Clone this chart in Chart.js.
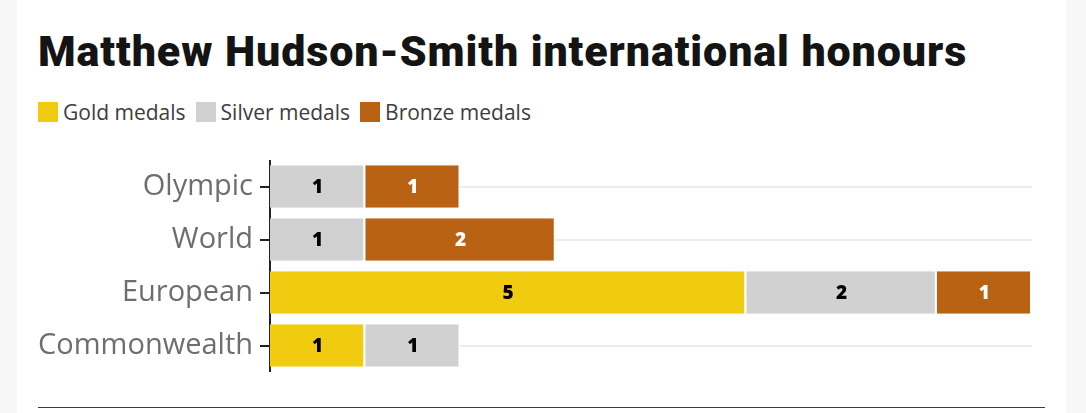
<!DOCTYPE html>
<html>
<head>
<meta charset="utf-8">
<script src="https://cdn.jsdelivr.net/npm/chart.js@4.4.1/dist/chart.umd.min.js"></script>
<style>
  html, body { margin: 0; padding: 0; }
  body { width: 1086px; height: 413px; background: #f7f7f7; position: relative; overflow: hidden; }
  .panel { position: absolute; left: 17px; top: 0; width: 1049px; height: 413px; background: #fff; }
  .title { position: absolute; left: 38px; top: 30px; font: 900 43px/1 Roboto, sans-serif; letter-spacing: 0.9px; color: #141414; white-space: nowrap; }
  .legend { position: absolute; left: 38px; top: 102px; display: flex; align-items: center; font: 400 21px/20px "Open Sans", sans-serif; color: #3d3d3d; }
  .legend .item { display: flex; align-items: center; margin-right: 10px; }
  .legend .swatch { width: 20px; height: 20px; margin-right: 5px; }
  #chart { position: absolute; left: 16px; top: 160px; }
  .rule { position: absolute; left: 38px; top: 407px; width: 1007px; height: 1px; background: #3a3a3a; }
</style>
</head>
<body>
<div class="panel"></div>
<div class="title">Matthew Hudson-Smith international honours</div>
<div class="legend" id="legend"></div>
<canvas id="chart" width="1016" height="212"></canvas>
<div class="rule"></div>

<script>
// data
const categories = ['Olympic', 'World', 'European', 'Commonwealth']
const seriesNames = ['Gold medals', 'Silver medals', 'Bronze medals']
const gold = [0, 0, 5, 1]
const silver = [1, 1, 2, 1]
const bronze = [1, 2, 1, 0]

const colors = ['#f1cb10', '#d1d1d1', '#b96213']
const labelColors = ['#000000', '#000000', '#ffffff']

// empty segments are left out so no border is drawn for them
const clean = arr => arr.map(v => v === 0 ? null : v)

// legend in html
const legend = document.getElementById('legend')
seriesNames.forEach((name, i) => {
	const item = document.createElement('div')
	item.className = 'item'
	const swatch = document.createElement('span')
	swatch.className = 'swatch'
	swatch.style.backgroundColor = colors[i]
	const text = document.createElement('span')
	text.innerText = name
	item.appendChild(swatch)
	item.appendChild(text)
	legend.appendChild(item)
})

// numbers inside the bars
const barLabels = {
	id: 'barLabels',
	afterDatasetsDraw(chart) {
		const ctx = chart.ctx
		ctx.save()
		ctx.font = '800 19px "Open Sans", sans-serif'
		ctx.textAlign = 'center'
		ctx.textBaseline = 'middle'
		chart.data.datasets.forEach((ds, i) => {
			const meta = chart.getDatasetMeta(i)
			meta.data.forEach((bar, j) => {
				const v = ds.data[j]
				if (!v) return
				ctx.fillStyle = labelColors[i]
				ctx.fillText(String(v), (bar.x + bar.base) / 2, bar.y + 1)
			})
		})
		ctx.restore()
	}
}

new Chart(document.getElementById('chart'), {
	type: 'bar',
	data: {
		labels: categories,
		datasets: [
			{ label: seriesNames[0], data: clean(gold), backgroundColor: colors[0] },
			{ label: seriesNames[1], data: clean(silver), backgroundColor: colors[1] },
			{ label: seriesNames[2], data: clean(bronze), backgroundColor: colors[2] },
		].map(ds => Object.assign(ds, {
			borderColor: '#ffffff',
			borderWidth: { top: 0, bottom: 0, left: 0, right: 2 },
			borderSkipped: false,
			barPercentage: 1,
			categoryPercentage: 0.8
		}))
	},
	options: {
		indexAxis: 'y',
		responsive: false,
		animation: false,
		layout: { padding: 0 },
		plugins: {
			legend: { display: false },
			tooltip: { enabled: false }
		},
		scales: {
			x: {
				stacked: true,
				display: false,
				min: 0,
				max: 8
			},
			y: {
				stacked: true,
				afterFit: scale => {
					scale.width = 254
					// labels sit well inside the bands, no extra room needed
					scale.paddingTop = 0
					scale.paddingBottom = 0
				},
				grid: {
					offset: false,
					color: '#ececec',
					lineWidth: 2,
					tickLength: 10,
					tickColor: '#222222',
					tickWidth: 2
				},
				border: { display: true, color: '#222222', width: 2 },
				ticks: {
					padding: 7,
					color: '#6e6e6e',
					font: { family: '"Open Sans", sans-serif', size: 29 }
				}
			}
		}
	},
	plugins: [barLabels]
})
</script>
</body>
</html>
